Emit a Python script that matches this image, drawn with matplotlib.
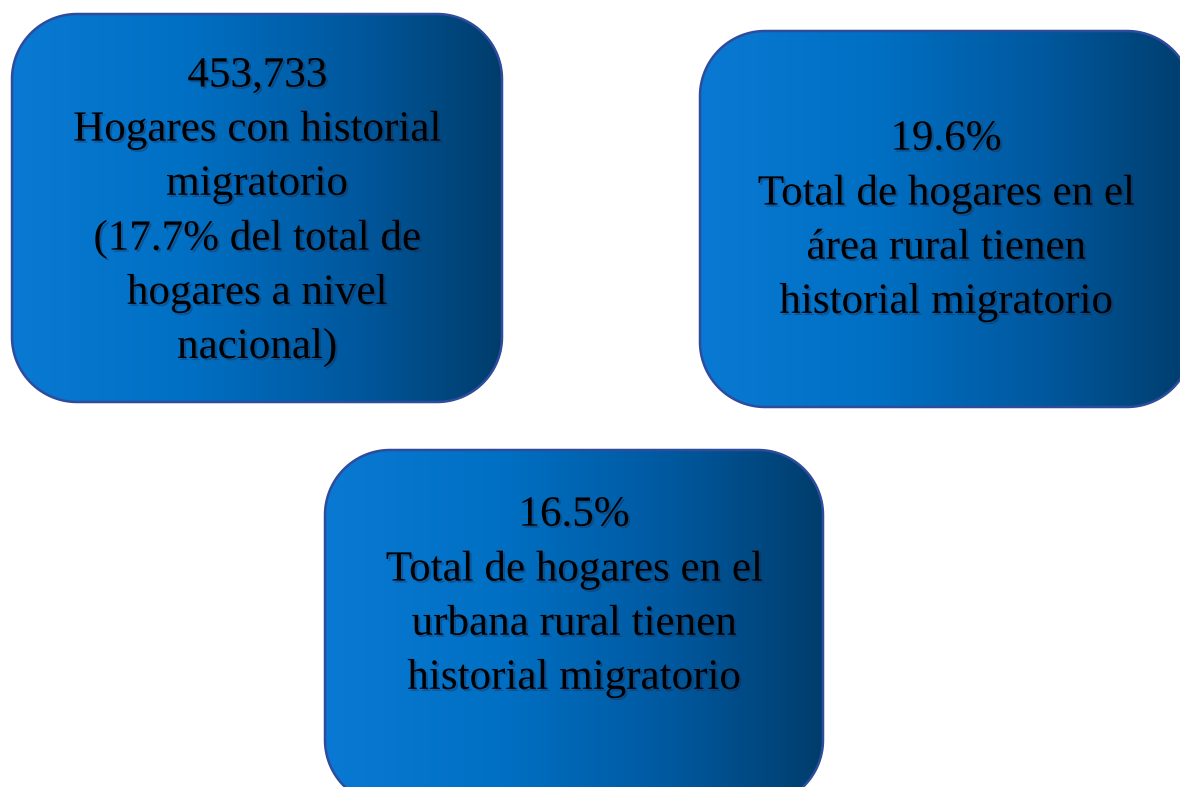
import numpy as np
import matplotlib.pyplot as plt
import matplotlib.patheffects as pe
from matplotlib.patches import Polygon
from matplotlib.colors import LinearSegmentedColormap

# cajas: (x0, y0, x1, y1) en pixeles, y el texto de cada una
cifras = ["453,733", "19.6%", "16.5%"]
descripciones = [
    "Hogares con historial\nmigratorio\n(17.7% del total de\nhogares a nivel\nnacional)",
    "Total de hogares en el\nárea rural tienen\nhistorial migratorio",
    "Total de hogares en el\nurbana rural tienen\nhistorial migratorio",
]
cajas = [(12, 14, 502, 402), (700, 31, 1192, 407), (325, 450, 823, 805)]
centro_texto = [212, 221, 597]

grad = LinearSegmentedColormap.from_list(
    "azul", [(0, "#0a79d3"), (0.35, "#0070c4"), (0.7, "#00589e"), (1, "#003d6c")])


def rect_redondeado(x0, y0, x1, y1, r=65, n=30):
    # esquinas como arcos muestreados (evita problemas al recortar beziers)
    pts = []
    esquinas = [(x1 - r, y0 + r, -90, 0), (x1 - r, y1 - r, 0, 90),
                (x0 + r, y1 - r, 90, 180), (x0 + r, y0 + r, 180, 270)]
    for cx, cy, a0, a1 in esquinas:
        t = np.radians(np.linspace(a0, a1, n))
        pts += list(zip(cx + r * np.cos(t), cy + r * np.sin(t)))
    return np.array(pts)


fig = plt.figure(figsize=(11.8, 7.87), dpi=100)
ax = fig.add_axes([0, 0, 1, 1])
ax.set_xlim(0, 1180)
ax.set_ylim(787, 0)
ax.axis("off")

g = np.linspace(0, 1, 256).reshape(1, -1)
sombra = [pe.withSimplePatchShadow(offset=(1.5, -1.5), shadow_rgbFace="#202040", alpha=0.35)]

for (x0, y0, x1, y1), cifra, desc, yc in zip(cajas, cifras, descripciones, centro_texto):
    caja = Polygon(rect_redondeado(x0, y0, x1, y1), closed=True,
                   facecolor="none", edgecolor="#2e4c9c", linewidth=1.8, zorder=3)
    ax.add_patch(caja)
    im = ax.imshow(g, cmap=grad, extent=(x0, x1, y1, y0), aspect="auto", zorder=2)
    im.set_clip_path(caja)
    ax.text((x0 + x1) / 2, yc, cifra + "\n" + desc, ha="center", va="center",
            family="Liberation Serif", fontsize=31, linespacing=1.53,
            color="black", zorder=4, path_effects=sombra)

ax.set_xlim(0, 1180)
ax.set_ylim(787, 0)
fig.savefig("out.png", dpi=100)
